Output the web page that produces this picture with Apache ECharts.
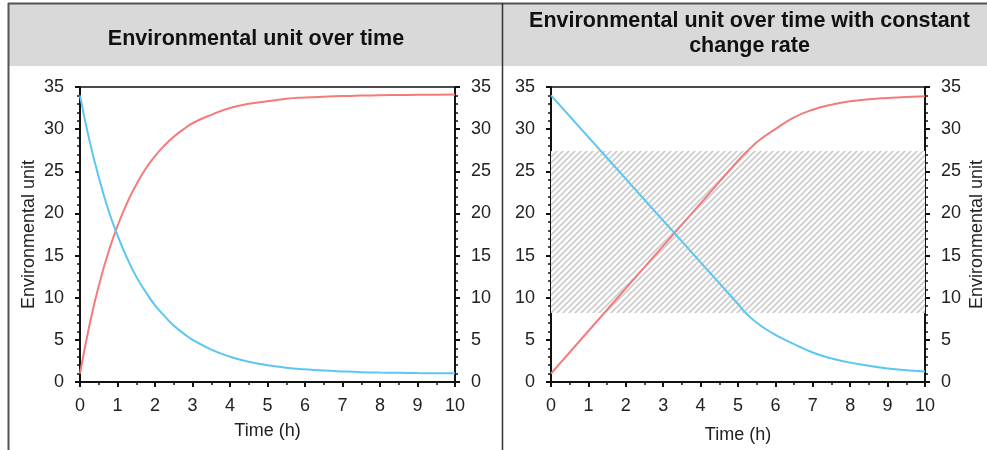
<!DOCTYPE html>
<html>
<head>
<meta charset="utf-8">
<script src="https://cdn.jsdelivr.net/npm/echarts@6/dist/echarts.min.js"></script>
<style>
html,body{margin:0;padding:0;background:#fff;}
#chart{width:987px;height:450px;}
</style>
</head>
<body>
<div id="chart"></div>
<script>
// ---- data ----
var titleLeft = 'Environmental unit over time';
var titleRightLines = ['Environmental unit over time with constant', 'change rate'];
var xName = 'Time (h)';
var yName = 'Environmental unit';

var timeLeft = [0,0.25,0.5,0.75,1,1.25,1.5,1.75,2,2.25,2.5,2.75,3,3.5,4,4.5,5,5.5,6,6.5,7,7.5,8,8.5,9,9.5,10];
var redLeft  = [1.0,6.7,11.4,15.3,18.5,21.2,23.4,25.3,26.8,28.05,29.1,29.95,30.7,31.7,32.5,33.0,33.3,33.6,33.75,33.85,33.93,33.98,34.02,34.05,34.07,34.08,34.1];
var blueLeft = [34.0,28.7,24.3,20.5,17.4,14.75,12.5,10.7,9.1,7.85,6.7,5.8,5.0,3.85,3.0,2.4,2.0,1.7,1.5,1.35,1.25,1.17,1.12,1.09,1.06,1.04,1.03];

var timeRight = [0,1,2,3,4,5,5.3,5.6,6,6.5,7,7.5,8,9,10];
var redRight  = [1.0,6.05,11.1,16.15,21.2,26.25,27.6,28.8,30.0,31.4,32.3,32.9,33.3,33.7,33.9];
var timeRightB = [0,1,2,3,4,5,5.25,5.6,6,6.5,7,7.5,8,9,10];
var blueRight = [34.0,29.05,24.1,19.15,14.2,9.25,8.0,6.7,5.6,4.5,3.5,2.8,2.3,1.6,1.25];

var hatchBand = [8.2, 27.4];
var yTicks = [0, 35, 5];   // min, max, interval
var xTicks = [0, 10, 1];

function pairs(xs, ys){ return xs.map(function(x,i){ return [x, ys[i]]; }); }

// hatch pattern
var pat = document.createElement('canvas');
pat.width = 6; pat.height = 6;
var pc = pat.getContext('2d');
pc.fillStyle = '#ffffff'; pc.fillRect(0,0,6,6);
pc.strokeStyle = '#cccccc'; pc.lineWidth = 1.6;
pc.beginPath();
pc.moveTo(-1,7); pc.lineTo(7,-1);
pc.moveTo(-1,1); pc.lineTo(1,-1);
pc.moveTo(5,7); pc.lineTo(7,5);
pc.stroke();

var RED = '#f47b7b', BLUE = '#5cc6f2';
var FONT = '"Liberation Sans", Arial, sans-serif';

function xAxisCfg(gi, gap){
  return {
    type:'value', gridIndex: gi, min:xTicks[0], max:xTicks[1], interval:xTicks[2],
    name: xName, nameLocation:'middle', nameGap: gap,
    nameTextStyle:{color:'#222', fontSize:18, fontFamily:FONT},
    axisLine:{show:true, onZero:false, lineStyle:{color:'#111', width:2}},
    axisTick:{show:true, length:5, lineStyle:{color:'#111', width:2}},
    minorTick:{show:true, splitNumber:2, length:3, lineStyle:{color:'#111', width:1.5}},
    axisLabel:{color:'#222', fontSize:18, fontFamily:FONT, margin:15},
    splitLine:{show:false}
  };
}
function yAxisCfg(gi, pos, withName){
  var c = {
    type:'value', gridIndex: gi, position: pos, min:yTicks[0], max:yTicks[1], interval:yTicks[2],
    axisLine:{show:true, onZero:false, lineStyle:{color:'#111', width:2}},
    axisTick:{show:true, length:5, lineStyle:{color:'#111', width:2}},
    minorTick:{show:true, splitNumber:5, length:3, lineStyle:{color:'#111', width:1.5}},
    axisLabel:{color:'#222', fontSize:18, fontFamily:FONT, margin:16},
    splitLine:{show:false}
  };
  if (withName){
    c.name = yName; c.nameLocation = 'middle'; c.nameGap = pos === 'left' ? 42 : 43;
    c.nameTextStyle = {color:'#222', fontSize:18, fontFamily:FONT};
  }
  return c;
}

var chart = echarts.init(document.getElementById('chart'), null, {renderer:'canvas'});
chart.setOption({
  animation:false,
  backgroundColor:'#ffffff',
  grid:[
    {left:80, right:532, top:87, bottom:68, show:true, borderColor:'#111', borderWidth:1.5, backgroundColor:'transparent'},
    {left:551, right:61, top:87, bottom:68, show:true, borderColor:'#111', borderWidth:1.5, backgroundColor:'transparent'}
  ],
  xAxis:[ xAxisCfg(0, 40), xAxisCfg(1, 44) ],
  yAxis:[ yAxisCfg(0,'left',true), yAxisCfg(0,'right',false), yAxisCfg(1,'left',false), yAxisCfg(1,'right',true) ],
  series:[
    {type:'line', xAxisIndex:0, yAxisIndex:0, data:pairs(timeLeft, redLeft), smooth:0.5, showSymbol:false, lineStyle:{color:RED, width:2}, z:3},
    {type:'line', xAxisIndex:0, yAxisIndex:0, data:pairs(timeLeft, blueLeft), smooth:0.5, showSymbol:false, lineStyle:{color:BLUE, width:2}, z:3},
    {type:'line', xAxisIndex:1, yAxisIndex:2, data:pairs(timeRight, redRight), smooth:0.5, showSymbol:false, lineStyle:{color:RED, width:2}, z:3,
      markArea:{silent:true, itemStyle:{color:{image:pat, repeat:'repeat'}, opacity:1},
        data:[[{xAxis:xTicks[0], yAxis:hatchBand[0]},{xAxis:xTicks[1], yAxis:hatchBand[1]}]]}},
    {type:'line', xAxisIndex:1, yAxisIndex:2, data:pairs(timeRightB, blueRight), smooth:0.5, showSymbol:false, lineStyle:{color:BLUE, width:2}, z:3}
  ],
  graphic:[
    {type:'rect', shape:{x:8, y:3, width:979, height:63}, style:{fill:'#d9d9d9'}, z:-10, silent:true},
    {type:'line', shape:{x1:8, y1:3.5, x2:987, y2:3.5}, style:{stroke:'#555', lineWidth:2}, silent:true},
    {type:'line', shape:{x1:8.5, y1:3, x2:8.5, y2:450}, style:{stroke:'#555', lineWidth:2}, silent:true},
    {type:'line', shape:{x1:502.5, y1:3, x2:502.5, y2:450}, style:{stroke:'#333', lineWidth:1.5}, silent:true},
    {type:'text', x:256, y:39, style:{text:titleLeft, fill:'#111', font:'bold 21.5px '+FONT, align:'center', verticalAlign:'middle'}, silent:true},
    {type:'text', x:749.5, y:21, style:{text:titleRightLines[0], fill:'#111', font:'bold 21.5px '+FONT, align:'center', verticalAlign:'middle'}, silent:true},
    {type:'text', x:749.5, y:46, style:{text:titleRightLines[1], fill:'#111', font:'bold 21.5px '+FONT, align:'center', verticalAlign:'middle'}, silent:true}
  ]
});
</script>
</body>
</html>
